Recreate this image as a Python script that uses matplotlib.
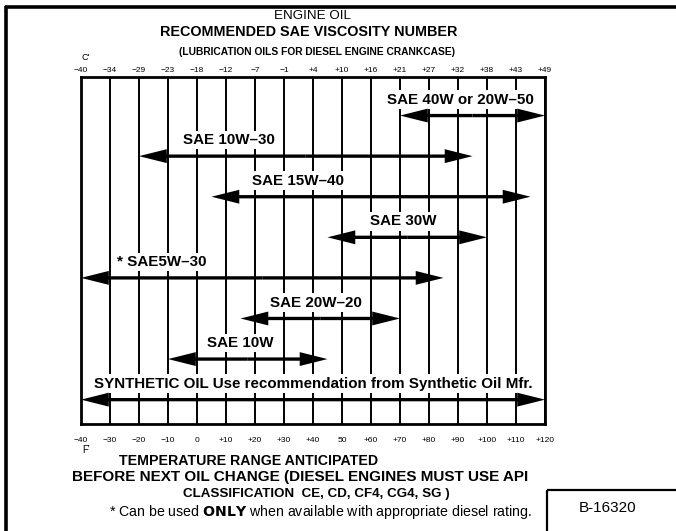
import matplotlib.pyplot as plt
from matplotlib.patches import FancyArrowPatch, Rectangle

plt.rcParams["font.family"] = ["Liberation Sans", "DejaVu Sans"]

# Temperature scale (deg F gridlines, matching deg C readings on top)
temps_f = [-40, -30, -20, -10, 0, 10, 20, 30, 40, 50, 60, 70, 80, 90, 100, 110, 120]
f_labels = ["−40", "−30", "−20", "−10", "0", "+10", "+20", "+30", "+40", "50",
            "+60", "+70", "+80", "+90", "+100", "+110", "+120"]
c_labels = ["−40", "−34", "−29", "−23", "−18", "−12", "−7", "−1", "+4", "+10",
            "+16", "+21", "+27", "+32", "+38", "+43", "+49"]

# Oil grades and their usable temperature ranges (deg F)
grades = ["SAE 40W or 20W–50", "SAE 10W–30", "SAE 15W–40", "SAE 30W",
          "* SAE5W–30", "SAE 20W–20", "SAE 10W",
          "SYNTHETIC OIL Use recommendation from Synthetic Oil Mfr."]
low_f = [70, -20, 5, 45, -40, 15, -10, -40]
high_f = [120, 95, 115, 100, 85, 70, 45, 120]

# where each grade name sits along the scale
label_at_f = [91, 11, 35, 71, -12, 41, 15, 40]

W, H = 676, 531
fig = plt.figure(figsize=(W / 100, H / 100), dpi=100)

# page furniture in pixel coordinates
page = fig.add_axes([0, 0, 1, 1])
page.set_xlim(0, W)
page.set_ylim(H, 0)
page.axis("off")
page.plot([5, W], [7, 7], color="black", lw=2.6, solid_capstyle="butt")
page.plot([6, 6], [6, H], color="black", lw=2.6, solid_capstyle="butt")
page.add_patch(Rectangle((547, 490), 140, 60, fill=False, ec="black", lw=1.6))
page.text(608, 508, "B-16320", ha="center", va="center", fontsize=11)

page.text(312, 16, "ENGINE OIL", ha="center", va="center", fontsize=9.6)
page.text(309, 32, "RECOMMENDED SAE VISCOSITY NUMBER", ha="center", va="center",
          fontsize=10.4, fontweight="bold")
page.text(317, 52, "(LUBRICATION OILS FOR DIESEL ENGINE CRANKCASE)", ha="center",
          va="center", fontsize=7.4, fontweight="bold")
page.text(82, 58, "C'", ha="left", va="center", fontsize=6.5)
page.text(82, 450, "F'", ha="left", va="center", fontsize=7)

page.text(249, 461, "TEMPERATURE RANGE ANTICIPATED", ha="center", va="center",
          fontsize=10.2, fontweight="bold")
page.text(300, 477, "BEFORE NEXT OIL CHANGE (DIESEL ENGINES MUST USE API",
          ha="center", va="center", fontsize=11, fontweight="bold")
page.text(316, 494, "CLASSIFICATION  CE, CD, CF4, CG4, SG )", ha="center",
          va="center", fontsize=9.6, fontweight="bold")
page.text(320, 512, r"* Can be used $\bf{ONLY}$ when available with appropriate diesel rating.",
          ha="center", va="center", fontsize=10.2)

# the chart itself
ax = fig.add_axes([81 / W, (H - 424) / H, 464 / W, 347 / H])
ax.set_xlim(temps_f[0], temps_f[-1])
ax.set_ylim(7.6, -0.95)
ax.set_yticks([])
ax.set_xticks(temps_f)
ax.set_xticklabels(f_labels, fontsize=6)
ax.tick_params(axis="x", length=0, pad=9)
ax.grid(axis="x", color="black", lw=1.4)
for side in ax.spines.values():
    side.set_linewidth(2)

top = ax.secondary_xaxis("top")
top.set_xticks(temps_f)
top.set_xticklabels(c_labels, fontsize=6)
top.tick_params(length=0, pad=2)
top.spines["top"].set_visible(False)

head = "simple,head_length=2.0,head_width=1.0,tail_width=0.24"
for row, (name, lo, hi, lx) in enumerate(zip(grades, low_f, high_f, label_at_f)):
    # two filled half-arrows from the middle give a double-headed range bar
    mid = (lo + hi) / 2
    for end in (lo, hi):
        ax.add_patch(FancyArrowPatch((mid, row), (end, row), arrowstyle=head,
                                     mutation_scale=10, lw=0, color="black",
                                     shrinkA=0, shrinkB=0, clip_on=False, zorder=4))
    ax.annotate(name, xy=(lx, row), xytext=(0, 11.5), textcoords="offset points",
                ha="center", va="center", fontsize=10.9, fontweight="bold",
                bbox=dict(boxstyle="square,pad=0.15", fc="white", ec="none"),
                zorder=3)

fig.savefig("out.png", dpi=100)
